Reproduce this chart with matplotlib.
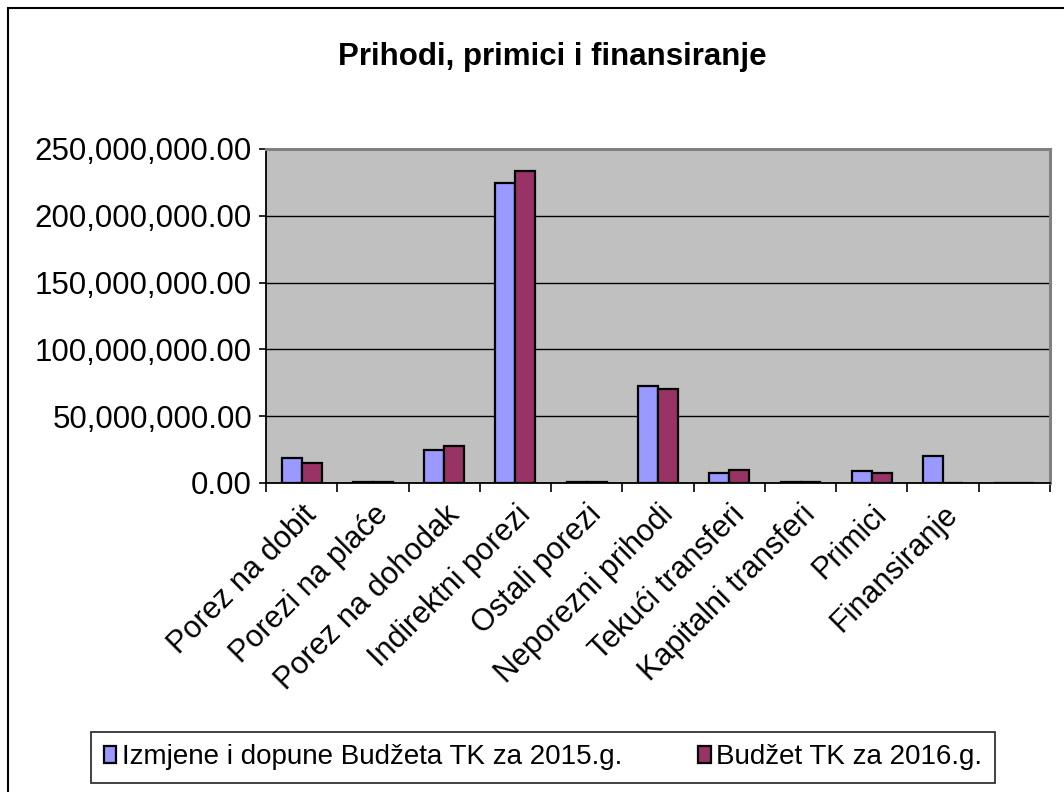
import numpy as np
import matplotlib.pyplot as plt
from matplotlib.ticker import FuncFormatter, FixedLocator
from matplotlib.patches import Rectangle

plt.rcParams['font.family'] = ['Liberation Sans', 'DejaVu Sans']

categories = ["Porez na dobit", "Porezi na plaće", "Porez na dohodak", "Indirektni porezi",
              "Ostali porezi", "Neporezni prihodi", "Tekući transferi", "Kapitalni transferi",
              "Primici", "Finansiranje", ""]
izmjene_2015 = [18.9e6, 1.0e6, 24.7e6, 224.3e6, 0.5e6, 72.6e6, 7.7e6, 0.8e6, 9.2e6, 20.2e6, 0]
budzet_2016 = [15.2e6, 1.0e6, 27.7e6, 233.8e6, 0.5e6, 70.4e6, 9.5e6, 0.8e6, 7.5e6, 0, 0]
series_names = ["Izmjene i dopune Budžeta TK za 2015.g.", "Budžet TK za 2016.g."]

fig = plt.figure(figsize=(10.64, 7.92), dpi=100)
# outer chart border (only top and left visible in the reference)
fig.patches.append(Rectangle((0.0075, -0.1), 1.5, 1.0905, transform=fig.transFigure,
                             fill=False, edgecolor='black', linewidth=1.5))
ax = fig.add_axes([0.25, 0.3902, 0.7368, 0.4217])
ax.set_facecolor('#C0C0C0')

x = np.arange(len(categories))
w = 0.28
ax.bar(x - w / 2, izmjene_2015, w, color='#9999FF', edgecolor='black', linewidth=1.6,
       label=series_names[0], zorder=3)
ax.bar(x + w / 2, budzet_2016, w, color='#993366', edgecolor='black', linewidth=1.6,
       label=series_names[1], zorder=3)

ax.set_xlim(-0.5, len(categories) - 0.5)
ax.set_ylim(0, 250e6)
ax.set_yticks(np.arange(0, 250e6 + 1, 50e6))
ax.yaxis.set_major_formatter(FuncFormatter(lambda v, p: f"{v:,.2f}"))
ax.grid(axis='y', color='black', linewidth=1, zorder=1)

ax.set_xticks(x)
ax.set_xticklabels(categories, rotation=45, ha='right', rotation_mode='anchor', fontsize=22)
ax.xaxis.set_minor_locator(FixedLocator(np.arange(-0.5, len(categories), 1)))
ax.tick_params(axis='x', which='major', length=0, pad=12)
ax.tick_params(axis='x', which='minor', length=6.5, width=1.2, direction='out')
ax.tick_params(axis='y', length=5, width=1.2, direction='out', labelsize=22.5, pad=5)

for s in ['top', 'right']:
    ax.spines[s].set_color('#808080')
    ax.spines[s].set_linewidth(2.2)
for s in ['left', 'bottom']:
    ax.spines[s].set_linewidth(1.3)

fig.text(0.519, 0.928, "Prihodi, primici i finansiranje", ha='center', va='center',
         fontsize=22.5, fontweight='bold')

leg = fig.legend(loc='center', bbox_to_anchor=(0.5103, 0.0436), ncol=2, fontsize=20,
                 frameon=True, fancybox=False, edgecolor='black', handlelength=0.45,
                 handleheight=0.6, handletextpad=0.2, columnspacing=2.75,
                 borderpad=0.45, borderaxespad=0)
leg.get_frame().set_linewidth(1.3)

fig.savefig("out.png", dpi=100)
